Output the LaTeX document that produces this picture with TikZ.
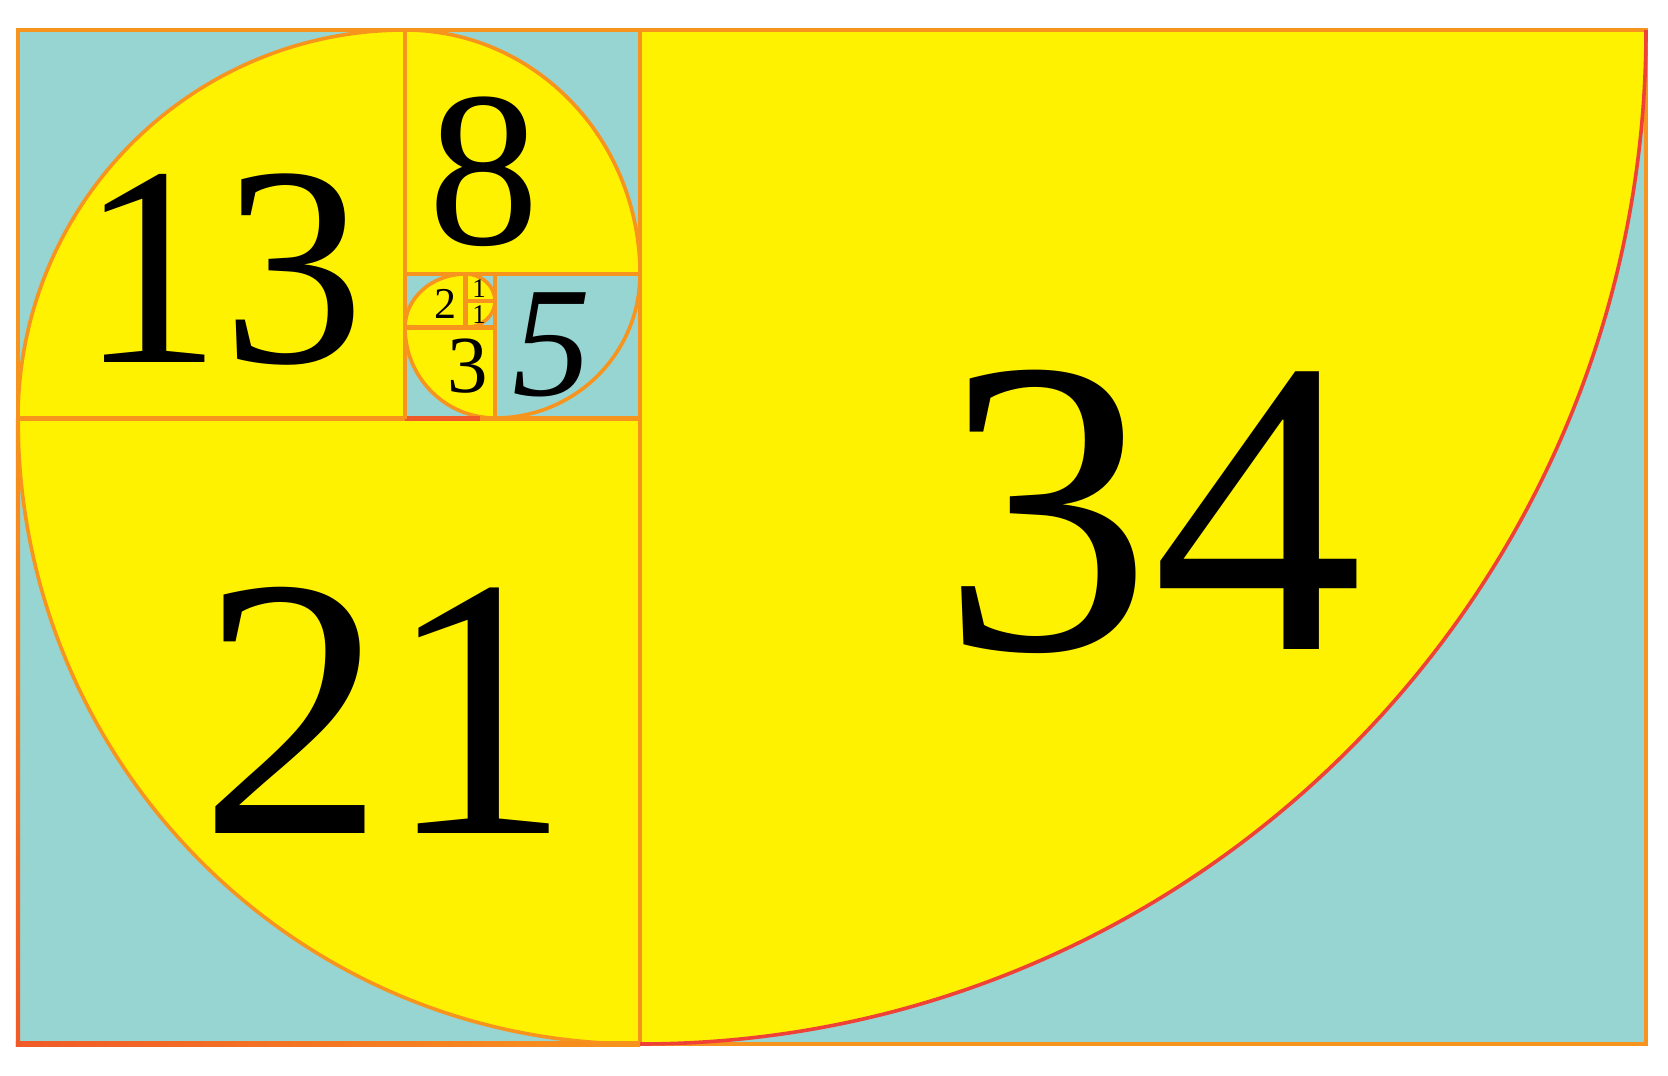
\documentclass[tikz,border=0pt]{standalone}
\usepackage{fontspec}
\setmainfont{Liberation Serif}
\definecolor{teal1}{RGB}{150,213,210}
\definecolor{yel}{RGB}{255,242,0}
\definecolor{orl}{RGB}{247,148,29}
\definecolor{redor}{RGB}{240,90,40}
\definecolor{redarc}{RGB}{239,65,54}
\tikzset{
  edge/.style={draw=orl,line width=4.2pt},
  redge/.style={draw=redor,line width=4.2pt},
  spiral/.style={draw=orl,line width=3.6pt},
  bigarc/.style={draw=redarc,line width=3.6pt},
  num/.style={inner sep=0pt,anchor=base,text=black},
}
\newcommand{\fs}[1]{\fontsize{#1}{#1}\selectfont}
\begin{document}
\begin{tikzpicture}[x=1pt,y=1pt,yscale=-1]
\useasboundingbox (0,0) rectangle (1668,1076);
% background
\fill[teal1] (18,30) rectangle (1646,1044);
% yellow sectors
\fill[yel] (640,30) -- (1646,30) arc[start angle=0,end angle=90,x radius=1006,y radius=1014] -- cycle;
\fill[yel] (640,418.5) -- (640,1044) arc[start angle=90,end angle=180,x radius=622,y radius=625.5] -- cycle;
\fill[yel] (405,418.5) -- (18,418.5) arc[start angle=180,end angle=270,x radius=387,y radius=388.5] -- cycle;
\fill[yel] (405,274) -- (405,30) arc[start angle=270,end angle=360,x radius=235,y radius=244] -- cycle;
\fill[yel] (495,327.5) -- (495,418) arc[start angle=90,end angle=180,x radius=90,y radius=90.5] -- cycle;
\fill[yel] (465.5,327.5) -- (405,327.5) arc[start angle=180,end angle=270,x radius=60.5,y radius=53.5] -- cycle;
\fill[yel] (465.5,301) -- (465.5,274) arc[start angle=270,end angle=360,x radius=29.5,y radius=27] -- cycle;
\fill[yel] (465.5,301) -- (495,301) arc[start angle=0,end angle=90,x radius=29.5,y radius=26.5] -- cycle;
% spiral arcs
\draw[spiral] (640,1044) arc[start angle=90,end angle=180,x radius=622,y radius=625.5];
\draw[spiral] (18,418.5) arc[start angle=180,end angle=270,x radius=387,y radius=388.5];
\draw[spiral] (405,30) arc[start angle=270,end angle=360,x radius=235,y radius=244];
\draw[spiral] (640,274) arc[start angle=0,end angle=90,x radius=145,y radius=144];
\draw[spiral] (495,418) arc[start angle=90,end angle=180,x radius=90,y radius=90.5];
\draw[spiral] (405,327.5) arc[start angle=180,end angle=270,x radius=60.5,y radius=53.5];
\draw[spiral] (465.5,274) arc[start angle=270,end angle=360,x radius=29.5,y radius=27];
\draw[spiral] (495,301) arc[start angle=0,end angle=90,x radius=29.5,y radius=26.5];
% square edges
\draw[edge] (640,30) -- (640,1044);
\draw[edge] (18,418.5) -- (640,418.5);
\draw[redge] (405,418.5) -- (480,418.5);
\draw[edge] (405,30) -- (405,418.5);
\draw[edge] (405,274) -- (640,274);
\draw[edge] (495,274) -- (495,418.5);
\draw[edge] (405,327.5) -- (495,327.5);
\draw[edge] (465.5,274) -- (465.5,327.5);
\draw[edge] (465.5,301) -- (495,301);
% outer frame
\draw[edge] (18,420) -- (18,30) -- (1646,30) -- (1646,1044) -- (640,1044);
\shade[top color=orl,bottom color=redor] (15.9,418.5) rectangle (20.1,1046.1);
\shade[left color=redor,right color=orl] (15.9,1041.9) rectangle (640,1046.1);
\draw[bigarc] (1646,30) arc[start angle=0,end angle=90,x radius=1006,y radius=1014];
% numbers
\node[num] (n34) at (1152,649) {\fs{422}34};
\node[num] (n21) at (385,833) {\fs{372}21};
\node[num] (n13) at (222,362) {\fs{285}13};
\node[num] (n8) at (484,244) {\fs{222}8};
\node[num] (n5) at (552,395) {\fs{157}\itshape 5};
\node[num] (n3) at (468,392) {\fs{81}3};
\node[num] (n2) at (445,318) {\fs{44}2};
\node[num] (n1a) at (479,297) {\fs{27}1};
\node[num] (n1b) at (479,323) {\fs{27}1};
\end{tikzpicture}
\end{document}
